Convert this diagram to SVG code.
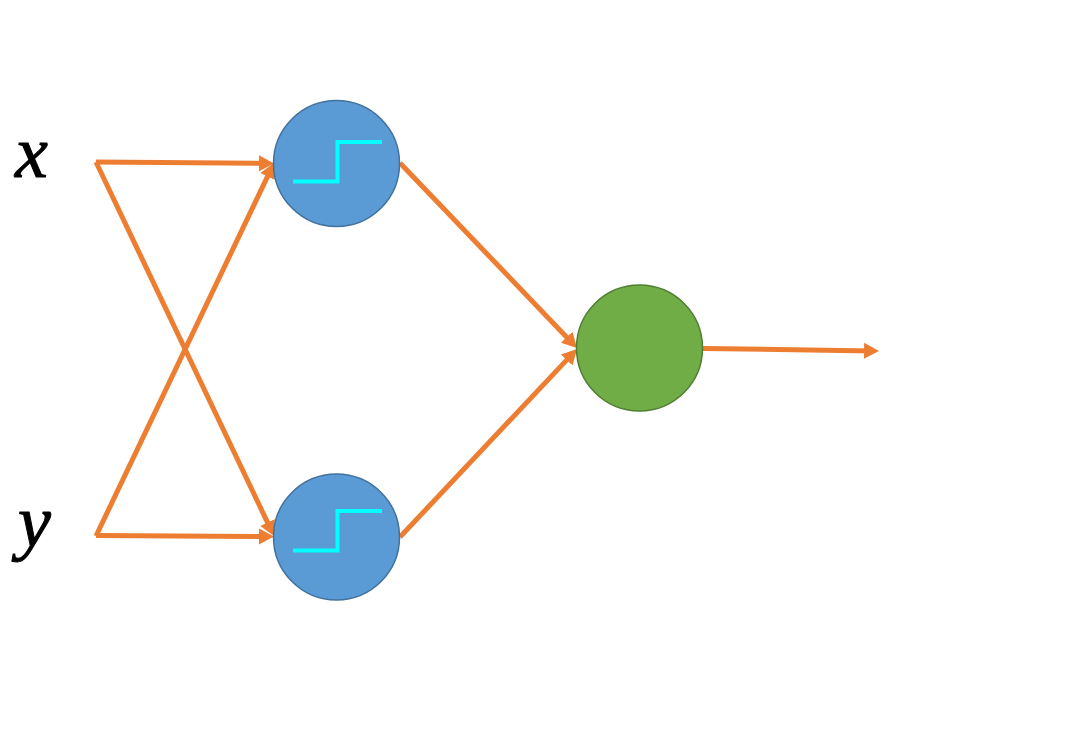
<svg xmlns="http://www.w3.org/2000/svg" width="1080" height="729" viewBox="0 0 1080 729">
<style>
.blue{fill:#5b9bd5;stroke:#41719c;stroke-width:1.5}
.green{fill:#70ad47;stroke:#507e32;stroke-width:1.5}
.step{fill:none;stroke:#00ffff;stroke-width:4}
.edge{fill:none;stroke:#ed7d31;stroke-width:5}
.lbl{font-family:"Liberation Serif","Times New Roman",serif;font-style:italic;font-size:74px;fill:#000;stroke:#000;stroke-width:1}
</style>
<defs><marker id="a" markerUnits="userSpaceOnUse" markerWidth="20" markerHeight="20" refX="9" refY="10" orient="auto"><path d="M0 2L15 10L0 18Z" fill="#ed7d31"/></marker></defs>
<rect width="1080" height="729" fill="#fff"/>
<g id="labels">
<text id="label-x" class="lbl" x="15" y="177">x</text>
<text id="label-y" class="lbl" x="18" y="546">y</text>
</g>
<g id="connectors">
<path class="edge" marker-end="url(#a)" d="M96 162L268 163.400"/>
<path class="edge" marker-end="url(#a)" d="M96 162L271.400 530.600"/>
<path class="edge" marker-end="url(#a)" d="M96 536L271.400 168.400"/>
<path class="edge" marker-end="url(#a)" d="M96 535.500L268 536.500"/>
<path class="edge" marker-end="url(#a)" d="M400 163L572.900 343.700"/>
<path class="edge" marker-end="url(#a)" d="M400 537L572.900 353.400"/>
<path class="edge" marker-end="url(#a)" d="M703 348.500L873 350.900"/>
</g>
<g id="node-top"><circle class="blue" cx="336.500" cy="163.500" r="63"/><path class="step" d="M293 181.500H337.500V142H382"/></g>
<g id="node-bottom"><circle class="blue" cx="336.500" cy="537" r="63"/><path class="step" d="M293 550.500H337.500V511H382"/></g>
<g id="node-output"><circle class="green" cx="639.500" cy="348" r="63"/></g>
</svg>
